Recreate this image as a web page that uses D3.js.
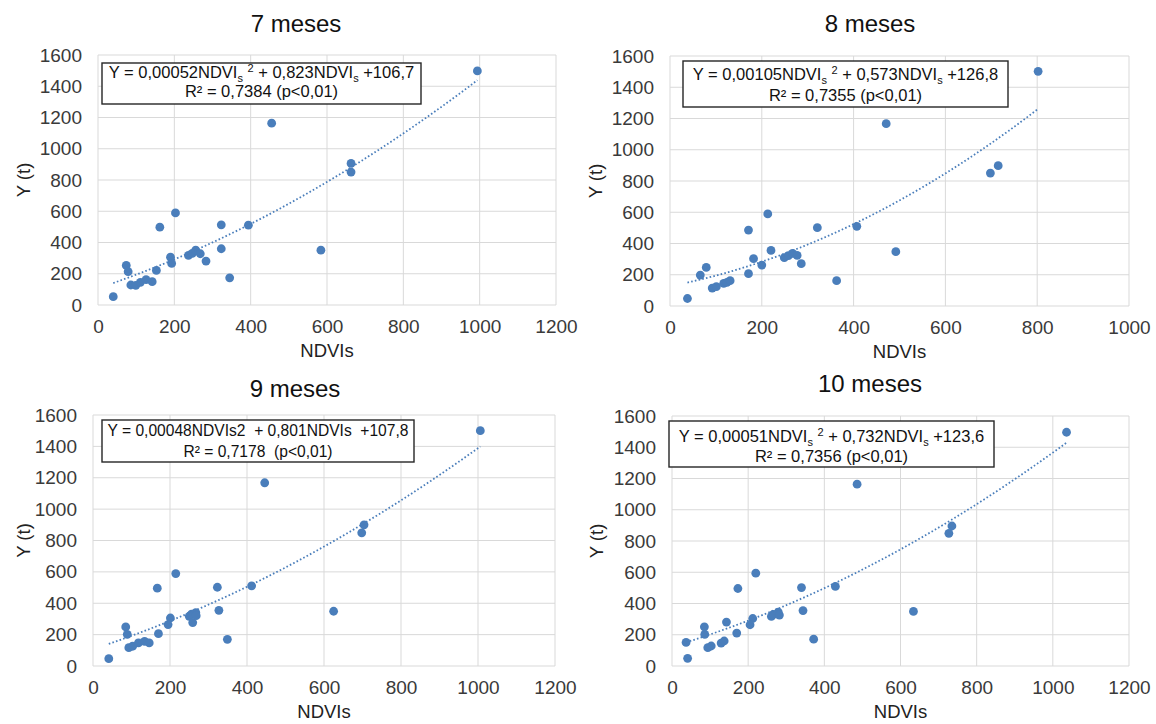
<!DOCTYPE html>
<html>
<head>
<meta charset="utf-8">
<script src="https://cdn.jsdelivr.net/npm/d3@7"></script>
<style>
  body { margin: 0; background: #fff; }
  svg { display: block; font-family: "Liberation Sans", Arial, sans-serif; }
</style>
</head>
<body>
<svg id="chart" width="1156" height="724"></svg>
<script>
// ---- data -------------------------------------------------------------
const panelTitles = ["7 meses", "8 meses", "9 meses", "10 meses"];

// NDVIs (x) and yield Y in t (y) for each accumulation period
const ndvi7  = [994, 455, 663, 663, 203, 162, 323, 394, 323, 584, 345, 283, 237, 247, 256, 268, 190, 193, 153, 74, 79, 86, 99, 111, 126, 142, 40];
const yield7 = [1498, 1164, 906, 851, 589, 498, 513, 511, 360, 351, 174, 281, 317, 330, 351, 328, 306, 266, 221, 253, 213, 128, 126, 145, 162, 149, 53];

const ndvi8  = [802, 471, 715, 698, 213, 171, 321, 407, 220, 492, 363, 286, 249, 258, 267, 277, 182, 200, 171, 79, 66, 92, 101, 117, 124, 131, 38];
const yield8 = [1502, 1167, 898, 851, 589, 486, 501, 510, 356, 348, 162, 271, 309, 322, 337, 324, 303, 262, 207, 247, 198, 115, 124, 145, 151, 162, 48];

const ndvi9  = [1006, 446, 704, 698, 215, 167, 323, 412, 327, 625, 349, 259, 250, 256, 267, 268, 201, 195, 170, 85, 89, 93, 103, 118, 134, 146, 41];
const yield9 = [1500, 1168, 900, 849, 589, 496, 502, 511, 355, 349, 170, 277, 317, 330, 340, 321, 306, 264, 206, 249, 202, 117, 126, 147, 157, 147, 47];

const ndvi10  = [1036, 486, 735, 727, 220, 173, 340, 429, 344, 634, 372, 143, 261, 266, 279, 282, 212, 205, 170, 85, 86, 94, 103, 129, 137, 37, 41];
const yield10 = [1496, 1164, 896, 849, 594, 496, 502, 509, 355, 349, 172, 281, 317, 330, 345, 326, 304, 264, 211, 251, 202, 117, 128, 147, 160, 151, 49];

// fitted quadratic  Y = a*NDVIs^2 + b*NDVIs + c
const coefA = [0.00052, 0.00105, 0.00048, 0.00051];
const coefB = [0.823, 0.573, 0.801, 0.732];
const coefC = [106.7, 126.8, 107.8, 123.6];
const rSquared = [0.7384, 0.7355, 0.7178, 0.7356];

const yTicks = [0, 200, 400, 600, 800, 1000, 1200, 1400, 1600];
const xTicksWide = [0, 200, 400, 600, 800, 1000, 1200];
const xTicksNarrow = [0, 200, 400, 600, 800, 1000];

// ---- layout -----------------------------------------------------------
const panels = [
  { xs: ndvi7,  ys: yield7,  ticks: xTicksWide,   plot: [98, 556, 55, 305],  title: [296, 32],  box: [102, 63, 319, 41],  lines: [78, 97],   yTitleX: 23,  compactEq: false },
  { xs: ndvi8,  ys: yield8,  ticks: xTicksNarrow, plot: [670, 1129, 56, 306], title: [870, 32],  box: [683, 61, 325, 46],  lines: [80, 101],  yTitleX: 595, compactEq: false },
  { xs: ndvi9,  ys: yield9,  ticks: xTicksWide,   plot: [93, 555, 415, 666],  title: [295, 397], box: [102, 420, 312, 42], lines: [436, 457], yTitleX: 23,  compactEq: true },
  { xs: ndvi10, ys: yield10, ticks: xTicksWide,   plot: [672, 1129, 416, 666], title: [870, 392], box: [669, 421, 325, 46], lines: [442, 462], yTitleX: 596, compactEq: false }
];

const blue = "#4a7ebb";
const gridColor = "#d9d9d9";
const tickColor = "#3a3a3a";
const svg = d3.select("#chart");
const dec = v => String(v).replace(".", ",");

panels.forEach((p, i) => {
  const [px0, px1, py0, py1] = p.plot;
  const x = d3.scaleLinear().domain([0, d3.max(p.ticks)]).range([px0, px1]);
  const y = d3.scaleLinear().domain([0, 1600]).range([py1, py0]);
  const g = svg.append("g");

  // gridlines
  g.append("g").selectAll("line").data(yTicks).join("line")
    .attr("x1", px0).attr("x2", px1)
    .attr("y1", d => y(d)).attr("y2", d => y(d))
    .attr("stroke", gridColor).attr("stroke-width", 1);
  g.append("g").selectAll("line").data(p.ticks).join("line")
    .attr("x1", d => x(d)).attr("x2", d => x(d))
    .attr("y1", py0).attr("y2", py1)
    .attr("stroke", gridColor).attr("stroke-width", 1);

  // axes (labels only, no domain path or tick marks)
  const yAxis = d3.axisLeft(y).tickValues(yTicks).tickSize(0).tickPadding(16).tickFormat(d3.format("d"));
  const xAxis = d3.axisBottom(x).tickValues(p.ticks).tickSize(0).tickPadding(15).tickFormat(d3.format("d"));
  const ya = g.append("g").attr("transform", `translate(${px0},0)`).call(yAxis);
  const xa = g.append("g").attr("transform", `translate(0,${py1})`).call(xAxis);
  [ya, xa].forEach(a => {
    a.select(".domain").remove();
    a.selectAll("text").attr("font-size", 19).attr("fill", tickColor)
      .attr("font-family", "'Liberation Sans', Arial, sans-serif");
  });

  // points
  g.append("g").selectAll("circle").data(p.xs.map((v, k) => [v, p.ys[k]])).join("circle")
    .attr("cx", d => x(d[0])).attr("cy", d => y(d[1])).attr("r", 4.4)
    .attr("fill", blue);

  // quadratic trend line over the observed NDVIs range
  const [lo, hi] = d3.extent(p.xs);
  const steps = d3.range(0, 61).map(k => lo + (hi - lo) * k / 60);
  const fit = v => coefA[i] * v * v + coefB[i] * v + coefC[i];
  g.append("path")
    .datum(steps)
    .attr("d", d3.line().x(v => x(v)).y(v => y(fit(v))))
    .attr("fill", "none").attr("stroke", blue).attr("stroke-width", 1.8)
    .attr("stroke-dasharray", "1.6,2.2");

  // panel title
  g.append("text").attr("x", p.title[0]).attr("y", p.title[1])
    .attr("text-anchor", "middle").attr("font-size", 24).attr("fill", "#111")
    .text(panelTitles[i]);

  // axis titles
  g.append("text")
    .attr("transform", `translate(${p.yTitleX},${(py0 + py1) / 2}) rotate(-90)`)
    .attr("text-anchor", "middle").attr("dominant-baseline", "central")
    .attr("font-size", 18.5).attr("fill", "#222").text("Y (t)");
  g.append("text").attr("x", (px0 + px1) / 2).attr("y", py1 + 52)
    .attr("text-anchor", "middle").attr("font-size", 18.5).attr("fill", "#222")
    .text("NDVIs");

  // equation box
  const [bx, by, bw, bh] = p.box;
  g.append("rect").attr("x", bx).attr("y", by).attr("width", bw).attr("height", bh)
    .attr("fill", "#fff").attr("stroke", "#262626").attr("stroke-width", 1.4);
  const cx = bx + bw / 2;
  const eqSize = p.compactEq ? 15.6 : 16.5;

  const eq = g.append("text").attr("x", cx).attr("y", p.lines[0])
    .attr("text-anchor", "middle").attr("font-size", eqSize).attr("fill", "#111")
    .style("white-space", "pre");
  let segs;
  if (p.compactEq) {
    segs = [{ t: `Y = ${dec(coefA[i])}NDVIs2  + ${dec(coefB[i])}NDVIs  +${dec(coefC[i])}` }];
  } else {
    segs = [
      { t: `Y = ${dec(coefA[i])}NDVI` }, { t: "s", s: 4 }, { t: " " }, { t: "2", s: -6 },
      { t: ` + ${dec(coefB[i])}NDVI` }, { t: "s", s: 4 }, { t: ` +${dec(coefC[i])}` }
    ];
  }
  let shift = 0;
  segs.forEach(sg => {
    const target = sg.s || 0;
    const ts = eq.append("tspan").attr("dy", target - shift).text(sg.t);
    if (sg.s) ts.attr("font-size", 11);
    shift = target;
  });

  const r2Text = p.compactEq
    ? `R² = ${dec(rSquared[i])}  (p<0,01)`
    : `R² = ${dec(rSquared[i])} (p<0,01)`;
  g.append("text").attr("x", cx).attr("y", p.lines[1])
    .attr("text-anchor", "middle").attr("font-size", eqSize).attr("fill", "#111")
    .style("white-space", "pre").text(r2Text);
});
</script>
</body>
</html>
